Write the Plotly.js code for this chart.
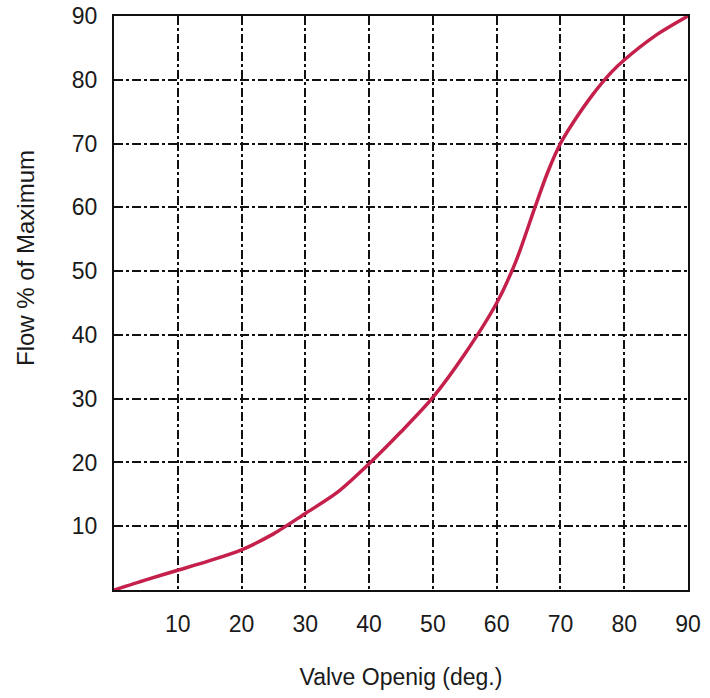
<!DOCTYPE html>
<html>
<head>
<meta charset="utf-8">
<script src="https://cdn.plot.ly/plotly-3.0.1.min.js"></script>
<style>html,body{margin:0;padding:0;background:#fff;}#chart{width:710px;height:698px;}</style>
</head>
<body>
<div id="chart"></div>
<script>
const valveOpening = [0, 5, 10, 15, 20, 25, 30, 35, 40, 45, 50, 55, 60, 63, 66, 68, 70, 72, 75, 78, 80, 85, 90];
const flowPercent  = [0, 1.6, 3.1, 4.6, 6.3, 8.8, 12.0, 15.3, 19.8, 24.8, 30.2, 37.0, 45.0, 51.5, 60.0, 65.5, 70.0, 73.3, 77.6, 81.2, 83.1, 87.0, 90.0];
const tickVals = [10, 20, 30, 40, 50, 60, 70, 80, 90];
const tickText = ['10', '20', '30', '40', '50', '60', '70', '80', '90'];
const xTitle = 'Valve Openig (deg.)';
const yTitle = 'Flow % of Maximum';

const fontFam = 'Liberation Sans, Arial, sans-serif';
const textColor = '#1a1a1a';
const axisCommon = {
  range: [0, 90],
  tickvals: tickVals,
  ticktext: tickText,
  showgrid: true,
  gridcolor: '#111',
  gridwidth: 2,
  griddash: 'dashdot',
  showline: true,
  linecolor: '#111',
  linewidth: 2,
  mirror: true,
  zeroline: false,
  ticks: '',
  tickfont: {family: fontFam, size: 23, color: textColor},
  fixedrange: true
};

Plotly.newPlot('chart', [{
  x: valveOpening,
  y: flowPercent,
  type: 'scatter',
  mode: 'lines',
  line: {color: '#c4204b', width: 3.5, shape: 'spline', smoothing: 0.8},
  hoverinfo: 'skip'
}], {
  width: 710, height: 698,
  margin: {l: 114, r: 22, t: 16, b: 108},
  paper_bgcolor: '#fff',
  plot_bgcolor: '#fff',
  showlegend: false,
  xaxis: Object.assign({}, axisCommon, {
    ticklabelstandoff: 12,
    title: {text: xTitle, font: {family: fontFam, size: 23, color: textColor}, standoff: 33}
  }),
  yaxis: Object.assign({}, axisCommon, {
    ticklabelstandoff: 10
  }),
  annotations: [{
    text: yTitle,
    xref: 'paper', yref: 'paper',
    x: (25 - 114) / 574, y: (590 - 258) / 574,
    xanchor: 'center', yanchor: 'middle',
    textangle: -90,
    showarrow: false,
    font: {family: fontFam, size: 24, color: textColor}
  }]
}, {displayModeBar: false, staticPlot: true});
</script>
</body>
</html>
